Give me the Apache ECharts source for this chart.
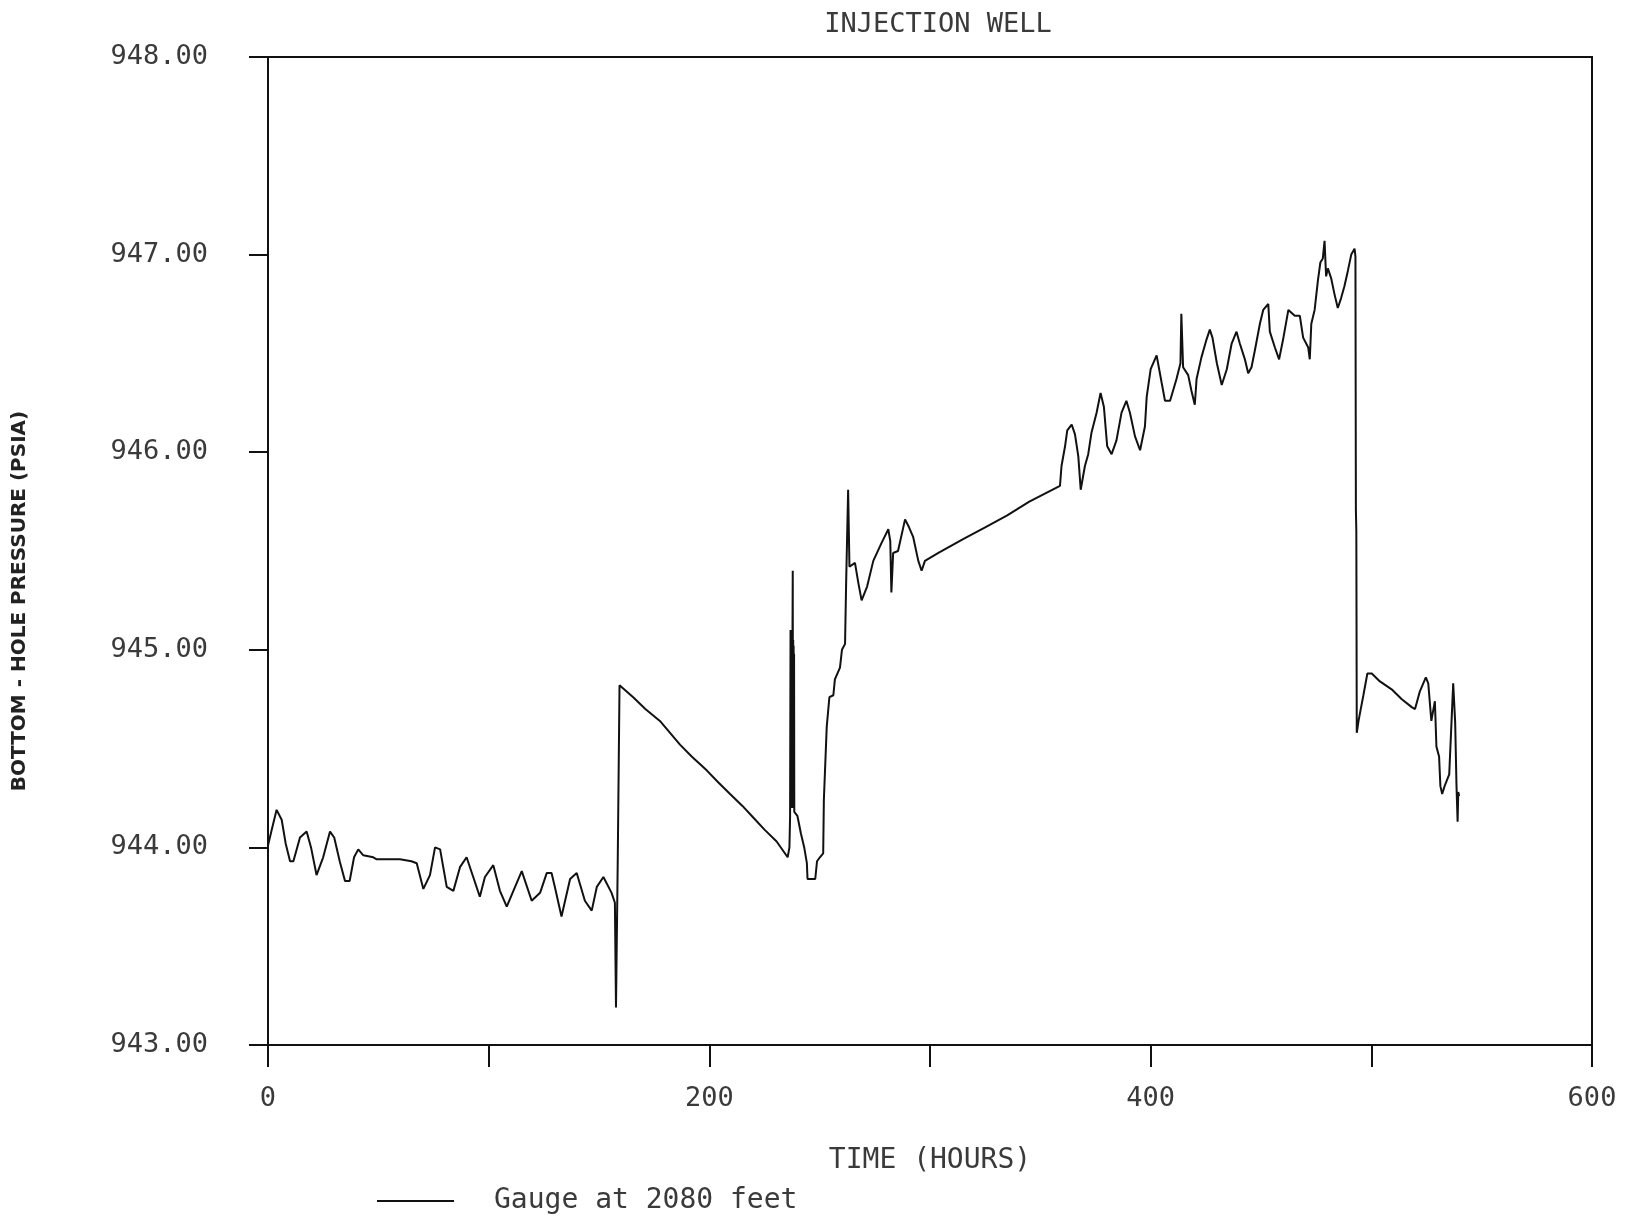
<!DOCTYPE html>
<html>
<head>
<meta charset="utf-8">
<title>Injection Well – Bottom-hole Pressure</title>
<script src="https://cdn.jsdelivr.net/npm/echarts@6/dist/echarts.min.js"></script>
<style>
  html, body { margin: 0; padding: 0; background: #ffffff; }
  #chart { width: 1631px; height: 1219px; }
</style>
</head>
<body>
<div id="chart"></div>
<script>
// Gauge record, elapsed time (hours)
const hours = [
  0, 1.5, 3.9, 6.2, 8, 10, 11.5, 14.5, 17.5, 19.5, 22, 25, 28.1, 30, 32.5, 34.9, 37, 39, 40.9, 43.2,
  47.7, 49.3, 59.8, 65, 67.4, 70.4, 73.4, 75.7, 78, 81, 84, 87, 90, 93, 96, 98.3, 102.1, 105.1, 108.2, 111.2,
  115, 119.5, 123.3, 126.3, 128.5, 130, 133, 136.9, 139.9, 143.6, 146.7, 149, 152, 155.7, 157.2, 157.7, 158.5, 159.3,
  160.2, 165.5, 171, 177.6, 186.7, 192, 198.8, 204, 209.4, 215, 220, 225, 230.5, 235.5,
  236.3, 236.6, 236.8, 237.0, 237.1, 237.2, 237.3, 237.4, 237.5, 237.6, 237.7, 237.8, 237.9, 238.0, 238.1, 238.2,
  238.3, 238.4, 238.5, 238.7, 239.9, 241.5, 243, 244.2, 244.5, 248, 248.8,
  250.1, 251.6, 251.9, 253.2, 254.4, 256.2, 256.9, 259.2, 260.1, 261.5, 262, 262.9, 263.5, 266, 267.5, 269,
  271.5, 274.3, 278, 281.1, 282, 282.5, 283.3, 285.5, 288.7, 290.5, 292.4, 294.7, 296.2, 297.7, 303.8,
  315, 325, 335, 345, 358.9, 359.6, 361.2, 362.2, 364.2, 365.7, 367.2, 368.3, 370.2, 371.7, 373.2, 375.5,
  377.3, 378.8, 380.3, 382.3, 384.5, 386.8, 389, 390.6, 392.9, 395.2, 397.4, 398.2, 400, 402.7, 405, 406.5,
  408.8, 411.7, 413.5, 413.9, 414.7, 417, 418.5, 420, 420.8, 423, 425.3, 426.8, 428, 430, 432.2, 434.5,
  436.7, 438.9, 440.4, 442.7, 444.2, 445.7, 447.3, 449.5, 451, 453.3, 454, 456.3, 458.2, 460, 462.4, 465.3,
  467.6, 469.1, 471.4, 472.1, 472.8, 474.3, 475.8, 476.9, 478, 478.8, 479.5, 480.3, 481.8, 483.3, 484.8, 486.3,
  487.8, 489.4, 490.9, 492.4, 492.8, 493.0, 493.2, 493.4, 494.2, 495.2, 496.4, 498.2, 500.2, 503.9, 509.2, 513.8,
  518.3, 519.8, 522, 524.7, 525.8, 527.2, 528.8, 529.5, 530.7, 531.3, 532.1, 533.2, 535.3, 535.9, 537.1, 538,
  538.6, 539.1, 539.4, 539.8
];

// Bottom-hole pressure (psia) at each time above
const psia = [
  944.01, 944.08, 944.19, 944.14, 944.02, 943.93, 943.93, 944.05, 944.08, 944.00, 943.86, 943.95, 944.08, 944.05, 943.93, 943.83, 943.83, 943.95, 943.99, 943.96,
  943.95, 943.94, 943.94, 943.93, 943.92, 943.79, 943.86, 944.00, 943.99, 943.80, 943.78, 943.90, 943.95, 943.85, 943.75, 943.85, 943.91, 943.78, 943.70, 943.78,
  943.88, 943.73, 943.77, 943.87, 943.87, 943.80, 943.65, 943.84, 943.87, 943.73, 943.68, 943.80, 943.85, 943.77, 943.72, 943.19, 943.94, 944.82,
  944.83, 944.76, 944.70, 944.64, 944.52, 944.46, 944.39, 944.33, 944.27, 944.21, 944.15, 944.09, 944.03, 943.95,
  944.00, 944.16, 945.10, 944.22, 945.06, 944.25, 945.10, 944.20, 945.08, 944.30, 945.12, 945.40, 944.25, 945.05, 944.20, 945.02,
  944.24, 944.98, 944.18, 944.17, 944.16, 944.07, 944.00, 943.92, 943.84, 943.84, 943.93,
  943.95, 943.97, 944.24, 944.61, 944.76, 944.77, 944.85, 944.91, 945.00, 945.03, 945.34, 945.81, 945.42, 945.44, 945.34, 945.25,
  945.32, 945.45, 945.54, 945.61, 945.55, 945.29, 945.49, 945.50, 945.66, 945.62, 945.57, 945.45, 945.40, 945.45, 945.49,
  945.56, 945.62, 945.68, 945.75, 945.83, 945.93, 946.03, 946.11, 946.14, 946.09, 945.98, 945.81, 945.93, 945.99, 946.10, 946.20,
  946.30, 946.23, 946.03, 945.99, 946.06, 946.20, 946.26, 946.20, 946.08, 946.01, 946.13, 946.28, 946.42, 946.49, 946.35, 946.26,
  946.26, 946.37, 946.45, 946.70, 946.43, 946.39, 946.31, 946.24, 946.37, 946.48, 946.57, 946.62, 946.58, 946.45, 946.34, 946.42,
  946.55, 946.61, 946.55, 946.47, 946.40, 946.43, 946.52, 946.65, 946.72, 946.75, 946.61, 946.53, 946.47, 946.57, 946.72, 946.69,
  946.69, 946.58, 946.53, 946.47, 946.65, 946.72, 946.87, 946.96, 946.98, 947.07, 946.89, 946.93, 946.88, 946.80, 946.73, 946.78,
  946.84, 946.92, 947.00, 947.03, 946.99, 945.71, 945.60, 944.58, 944.64, 944.70, 944.77, 944.88, 944.88, 944.84, 944.80, 944.75,
  944.71, 944.70, 944.79, 944.86, 944.83, 944.64, 944.74, 944.51, 944.46, 944.31, 944.27, 944.31, 944.37, 944.38, 944.83, 944.63,
  944.31, 944.13, 944.28, 944.26
];

// Labelled hours on the time axis (ticks every 100 h, labels every 200 h)
const timeLabels = [0, 200, 400, 600];

const plotterFont = '"DejaVu Sans Mono", "Liberation Mono", monospace';
const ink = '#111111';
const textInk = '#3a3a3a';

const chart = echarts.init(document.getElementById('chart'), null, { renderer: 'canvas' });

chart.setOption({
  animation: false,
  backgroundColor: '#ffffff',
  title: {
    text: 'INJECTION WELL',
    left: 933,
    top: 6,
    textAlign: 'center',
    textStyle: { fontFamily: plotterFont, fontSize: 27, fontWeight: 'normal', color: textInk }
  },
  legend: {
    data: [{ name: 'Gauge at 2080 feet', icon: 'rect' }],
    left: 372,
    top: 1182,
    itemWidth: 77,
    itemHeight: 2,
    itemStyle: { color: ink },
    textStyle: { fontFamily: plotterFont, fontSize: 28, color: textInk, padding: [0, 0, 0, 35] }
  },
  grid: {
    left: 268,
    right: 39,
    top: 57,
    bottom: 174,
    show: true,
    borderColor: ink,
    borderWidth: 2,
    backgroundColor: 'transparent'
  },
  xAxis: {
    type: 'value',
    min: 0,
    max: 600,
    interval: 100,
    name: 'TIME (HOURS)',
    nameLocation: 'middle',
    nameGap: 102,
    nameTextStyle: { fontFamily: plotterFont, fontSize: 28, color: textInk },
    axisLine: { show: true, lineStyle: { color: ink, width: 2 } },
    axisTick: { show: true, inside: false, length: 22, lineStyle: { color: ink, width: 2 } },
    axisLabel: {
      margin: 40,
      fontFamily: plotterFont,
      fontSize: 27,
      color: textInk,
      showMinLabel: true,
      showMaxLabel: true,
      formatter: v => (timeLabels.indexOf(v) >= 0 ? String(v) : '')
    },
    splitLine: { show: false }
  },
  yAxis: {
    type: 'value',
    min: 943,
    max: 948,
    interval: 1,
    name: 'BOTTOM - HOLE PRESSURE (PSIA)',
    nameLocation: 'middle',
    nameGap: 238,
    nameTextStyle: {
      fontFamily: '"DejaVu Sans", "Liberation Sans", sans-serif',
      fontSize: 20,
      fontWeight: 'bold',
      color: '#222222',
      padding: [0, 100, 0, 0]
    },
    axisLine: { show: true, lineStyle: { color: ink, width: 2 } },
    axisTick: { show: true, inside: false, length: 19, lineStyle: { color: ink, width: 2 } },
    axisLabel: {
      margin: 60,
      fontFamily: plotterFont,
      fontSize: 27,
      color: textInk,
      formatter: v => v.toFixed(2)
    },
    splitLine: { show: false }
  },
  series: [{
    name: 'Gauge at 2080 feet',
    type: 'line',
    symbol: 'none',
    showSymbol: false,
    lineStyle: { color: ink, width: 2 },
    itemStyle: { color: ink },
    data: hours.map((t, i) => [t, psia[i]])
  }]
});
</script>
</body>
</html>
